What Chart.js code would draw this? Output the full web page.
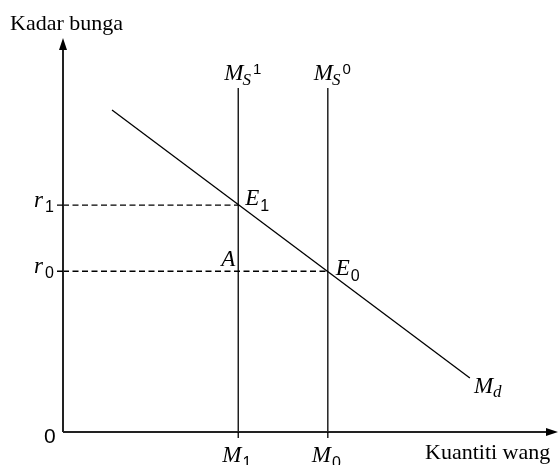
<!DOCTYPE html>
<html>
<head>
<meta charset="utf-8">
<script src="https://cdn.jsdelivr.net/npm/chart.js@4/dist/chart.umd.min.js"></script>
<style>
body { margin: 0; background: #fff; }
canvas { display: block; }
</style>
</head>
<body>
<canvas id="chart" width="560" height="465"></canvas>
<script>
// quantity of money (x) and interest rate (y) values
const moneyNames = ['1', '0']
const moneyValues = [35.4, 53.5]
const rateNames = ['1', '0']
const rateValues = [57.6, 40.8]
const demandX = [9.9, 82.2]
const demandY = [81.7, 13.7]
const supplyTop = 87.3

const serif = 'Liberation Serif'
const sans = 'Liberation Sans'
const ink = '#000'

function line(points, dash) {
  return {
    data: points,
    showLine: true,
    borderColor: ink,
    borderWidth: 1.3,
    borderDash: dash || [],
    pointRadius: 0,
    fill: false
  }
}

let datasets = []
datasets.push(line(demandX.map((x, i) => ({ x: x, y: demandY[i] }))))
moneyValues.forEach(m => {
  datasets.push(line([{ x: m, y: 0 }, { x: m, y: supplyTop }]))
})
rateValues.forEach((r, i) => {
  datasets.push(line([{ x: 0, y: r }, { x: moneyValues[i], y: r }], [6, 3.5]))
})

function txt(ctx, s, x, y, font) {
  ctx.font = font
  ctx.fillText(s, x, y)
  return x + ctx.measureText(s).width
}

const labels = {
  id: 'labels',
  afterDraw(chart) {
    const ctx = chart.ctx
    const a = chart.chartArea
    const xs = chart.scales.x
    const ys = chart.scales.y
    ctx.save()
    ctx.strokeStyle = '#222'
    ctx.fillStyle = ink
    ctx.lineWidth = 2
    // axes with arrow heads
    ctx.beginPath()
    ctx.moveTo(a.left, a.bottom)
    ctx.lineTo(a.left, a.top + 8)
    ctx.moveTo(a.left, a.bottom)
    ctx.lineTo(a.right - 8, a.bottom)
    ctx.stroke()
    ctx.beginPath()
    ctx.moveTo(a.left, a.top)
    ctx.lineTo(a.left - 4, a.top + 12)
    ctx.lineTo(a.left + 4, a.top + 12)
    ctx.closePath()
    ctx.moveTo(a.right, a.bottom)
    ctx.lineTo(a.right - 12, a.bottom - 4)
    ctx.lineTo(a.right - 12, a.bottom + 4)
    ctx.closePath()
    ctx.fill()
    // tick stubs
    ctx.lineWidth = 1.3
    ctx.strokeStyle = ink
    ctx.beginPath()
    moneyValues.forEach(m => {
      const px = xs.getPixelForValue(m)
      ctx.moveTo(px, a.bottom)
      ctx.lineTo(px, a.bottom + 6)
    })
    rateValues.forEach(r => {
      const py = ys.getPixelForValue(r)
      ctx.moveTo(a.left - 6, py)
      ctx.lineTo(a.left, py)
    })
    ctx.stroke()

    ctx.textBaseline = 'alphabetic'
    txt(ctx, 'Kadar bunga', 10, 30, '22px "' + serif + '"')
    txt(ctx, 'Kuantiti wang', 425, 459, '22px "' + serif + '"')
    txt(ctx, '0', 44, 443, '21px "' + sans + '"')

    const it = 'italic 23px "' + serif + '"'
    const sub = '16px "' + sans + '"'

    // rate labels on the y axis
    rateValues.forEach((r, i) => {
      const py = ys.getPixelForValue(r)
      let x = txt(ctx, 'r', 34, py + 2, it)
      txt(ctx, rateNames[i], x + 2, py + 7, sub)
    })
    // money labels under the x axis, supply labels on top
    moneyValues.forEach((m, i) => {
      const px = xs.getPixelForValue(m)
      let x = txt(ctx, 'M', px - 16, 462, it)
      txt(ctx, moneyNames[i], x + 1, 468, sub)
      const ty = ys.getPixelForValue(supplyTop)
      x = txt(ctx, 'M', px - 14, ty - 8, it)
      x = txt(ctx, 'S', x - 1, ty - 3, 'italic 17px "' + serif + '"')
      txt(ctx, moneyNames[i], x + 2, ty - 14, '15px "' + sans + '"')
    })
    // equilibrium points
    let px = xs.getPixelForValue(moneyValues[0])
    let py = ys.getPixelForValue(rateValues[0])
    let x = txt(ctx, 'E', px + 7, py, it)
    txt(ctx, '1', x + 1, py + 6, sub)
    py = ys.getPixelForValue(rateValues[1])
    txt(ctx, 'A', px - 17, py - 5, it)
    px = xs.getPixelForValue(moneyValues[1])
    x = txt(ctx, 'E', px + 8, py + 4, it)
    txt(ctx, '0', x + 1, py + 10, sub)
    // demand curve label
    px = xs.getPixelForValue(demandX[1])
    py = ys.getPixelForValue(demandY[1])
    x = txt(ctx, 'M', px + 4, py + 15, it)
    txt(ctx, 'd', x, py + 19, 'italic 17px "' + serif + '"')
    ctx.restore()
  }
}

let chart = new Chart(document.querySelector('#chart'), {
  type: 'scatter',
  data: { datasets: datasets },
  options: {
    responsive: false,
    animation: false,
    devicePixelRatio: 1,
    layout: { padding: { left: 63, top: 38, right: 2, bottom: 33 } },
    plugins: { legend: { display: false }, tooltip: { enabled: false } },
    scales: {
      x: { type: 'linear', min: 0, max: 100, display: false },
      y: { type: 'linear', min: 0, max: 100, display: false }
    }
  },
  plugins: [labels]
})
</script>
</body>
</html>
